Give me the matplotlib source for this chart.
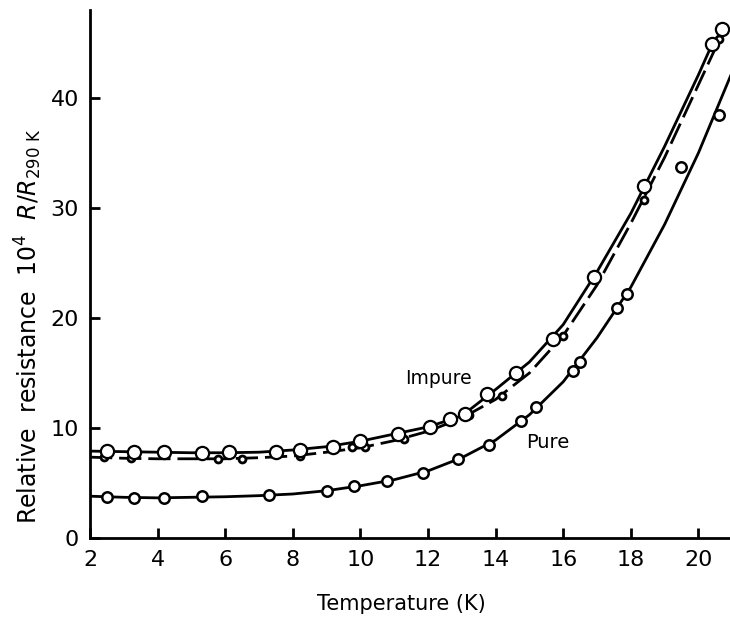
import matplotlib
matplotlib.use('Agg')
import matplotlib.pyplot as plt

impure_T = [2.5, 3.3, 4.2, 5.3, 6.1, 7.5, 8.2, 9.2, 10.0, 11.1, 12.05, 12.65, 13.1, 13.75, 14.6, 15.7, 16.9, 18.4, 20.4, 20.7]
impure_R = [7.9, 7.8, 7.8, 7.7, 7.8, 7.8, 8.0, 8.3, 8.8, 9.5, 10.1, 10.8, 11.3, 13.1, 15.0, 18.1, 23.7, 32.0, 44.9, 46.3]

dashed_T = [2.4, 3.2, 5.8, 6.5, 8.2, 9.75, 10.15, 11.3, 13.2, 14.2, 16.0, 18.4, 20.6]
dashed_R = [7.4, 7.25, 7.2, 7.2, 7.5, 8.25, 8.25, 9.0, 11.2, 12.9, 18.4, 30.7, 45.4]

pure_T = [2.5, 3.3, 4.2, 5.3, 7.3, 9.0, 9.8, 10.8, 11.85, 12.9, 13.8, 14.75, 15.2, 16.3, 16.5, 17.6, 17.9, 19.5, 20.6]
pure_R = [3.7, 3.6, 3.6, 3.8, 3.9, 4.3, 4.7, 5.2, 5.9, 7.2, 8.5, 10.6, 11.9, 15.2, 16.0, 20.9, 22.2, 33.7, 38.5]

# smooth curves drawn through the points (read every 1 K)
impure_line_T = [2, 3, 4, 5, 6, 7, 8, 9, 10, 11, 12, 13, 14, 15, 16, 17, 18, 19, 20, 20.45]
impure_line_R = [7.9, 7.85, 7.8, 7.75, 7.75, 7.8, 8.0, 8.3, 8.8, 9.45, 10.1, 11.1, 13.5, 16.0, 19.4, 24.2, 29.5, 35.6, 42.1, 45.2]

dashed_line_T = [2, 3, 4, 5, 6, 7, 8, 9, 10, 11, 12, 13, 14, 15, 16, 17, 18, 19, 20, 20.65]
dashed_line_R = [7.35, 7.25, 7.2, 7.2, 7.2, 7.3, 7.45, 7.8, 8.2, 8.85, 9.7, 10.9, 12.6, 15.0, 18.4, 23.0, 28.6, 34.6, 41.2, 45.5]

pure_line_T = [2, 3, 4, 5, 6, 7, 8, 9, 10, 11, 12, 13, 14, 15, 16, 17, 18, 19, 20, 20.95]
pure_line_R = [3.8, 3.7, 3.65, 3.7, 3.75, 3.85, 4.0, 4.3, 4.75, 5.3, 6.1, 7.3, 8.9, 11.2, 14.2, 18.2, 22.8, 28.5, 35.0, 42.0]

x_ticks = [2, 4, 6, 8, 10, 12, 14, 16, 18, 20]
y_ticks = [0, 10, 20, 30, 40]

fig = plt.figure(figsize=(7.3, 6.19), dpi=100)
ax = fig.add_axes([90/730, 81/619, 640/730, 528/619])

# lines
ax.plot(impure_line_T, impure_line_R, color='k', lw=2, zorder=2)
ax.plot(dashed_line_T, dashed_line_R, color='k', lw=2, dashes=(8, 2.5), zorder=2)
ax.plot(pure_line_T, pure_line_R, color='k', lw=2, zorder=2)

# points
ax.plot(impure_T, impure_R, 'o', ms=9.5, mfc='white', mec='k', mew=1.6, zorder=4)
ax.plot(dashed_T, dashed_R, 'o', ms=5, mfc='white', mec='k', mew=2, zorder=3)
ax.plot(pure_T, pure_R, 'o', ms=7.5, mfc='white', mec='k', mew=1.8, zorder=3)

ax.text(12.3, 14.5, 'Impure', fontsize=13.5, ha='center', va='center')
ax.text(15.55, 8.7, 'Pure', fontsize=14, ha='center', va='center')

ax.set_xlim(2, 2 + 640/33.8)
ax.set_ylim(0, 48)
ax.set_xticks(x_ticks)
ax.set_yticks(y_ticks)
ax.tick_params(direction='in', length=7, width=2, labelsize=16)
ax.tick_params(axis='x', pad=9)
ax.tick_params(axis='y', pad=8)

for s in ['top', 'right']:
    ax.spines[s].set_visible(False)
for s in ['left', 'bottom']:
    ax.spines[s].set_linewidth(2)

fig.text(401/730, 1 - 604/619, 'Temperature (K)', fontsize=15, ha='center', va='center')
fig.text(28/730, 1 - 326/619, r'Relative  resistance  10$^4$  $R/R_{290\ \mathrm{K}}$',
         fontsize=17, rotation=90, ha='center', va='center')

plt.savefig('out.png', dpi=100)
